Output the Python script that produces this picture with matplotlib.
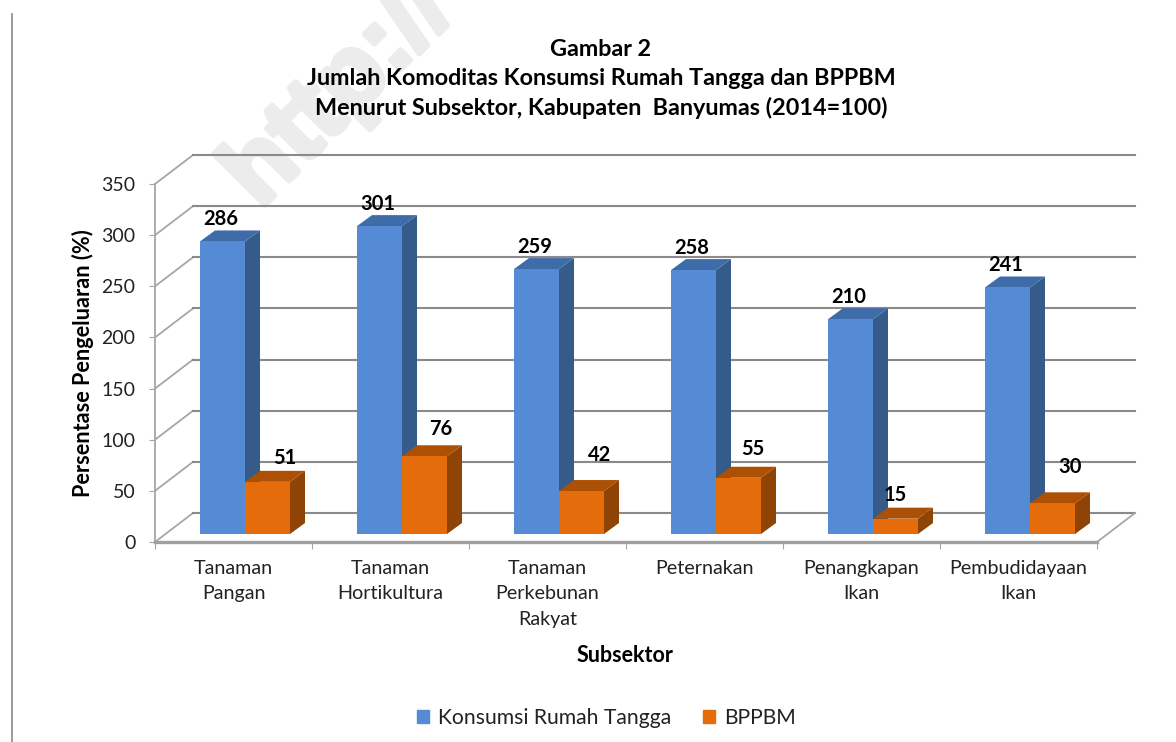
import matplotlib
matplotlib.use("Agg")
import matplotlib.pyplot as plt
import matplotlib.patheffects as pe
from matplotlib.patches import Polygon, Patch

plt.rcParams['font.family'] = ['Lato', 'DejaVu Sans']

categories = ["Tanaman\nPangan", "Tanaman\nHortikultura", "Tanaman\nPerkebunan\nRakyat",
              "Peternakan", "Penangkapan\nIkan", "Pembudidayaan\nIkan"]
konsumsi = [286, 301, 259, 258, 210, 241]
bppbm = [51, 76, 42, 55, 15, 30]
y_ticks = [0, 50, 100, 150, 200, 250, 300, 350]
series_names = ["Konsumsi Rumah Tangga", "BPPBM"]
title_lines = "Gambar 2\nJumlah Komoditas Konsumsi Rumah Tangga dan BPPBM\nMenurut Subsektor, Kabupaten  Banyumas (2014=100)"

W, H = 1176, 742
fig = plt.figure(figsize=(W / 100, H / 100), dpi=100, facecolor='white')
L, R, B, T = 155, 1097, 542, 184
ax = fig.add_axes([L / W, 1 - B / H, (R - L) / W, (B - T) / H], zorder=2)
ax.set_xlim(0, 6)
ax.set_ylim(0, 350)
ax.patch.set_visible(False)

px = 6 / (R - L)
py = 350 / (B - T)
GRID = '#8a8a8a'
LIGHT = '#a6a6a6'

wall_dx, wall_dy = 38 * px, 29 * py
for v in y_ticks:
    ax.plot([0, wall_dx], [v, v + wall_dy], color=LIGHT, lw=1.3, clip_on=False, zorder=1)
    ax.plot([wall_dx, 6 + wall_dx], [v + wall_dy, v + wall_dy], color=GRID, lw=1.5, clip_on=False, zorder=1)
ax.plot([6, 6 + wall_dx], [0, wall_dy], color=LIGHT, lw=1.3, clip_on=False, zorder=1)

bar_w = 45 * px
base_dx, base_dy = 11.5 * px, 8 * py
dep_x, dep_y = 15 * px, 11 * py
BLUE = ('#558ad4', '#3d6ca8', '#345b8a')
ORANGE = ('#e46c0a', '#ab5005', '#8f4304')


def bar3d(x0, value, cols):
    y0, y1, x1 = base_dy, base_dy + value, x0 + bar_w
    ax.add_patch(Polygon([(x1, y0), (x1 + dep_x, y0 + dep_y), (x1 + dep_x, y1 + dep_y), (x1, y1)],
                         closed=True, fc=cols[2], ec='none', clip_on=False, zorder=3))
    ax.add_patch(Polygon([(x0, y1), (x0 + dep_x, y1 + dep_y), (x1 + dep_x, y1 + dep_y), (x1, y1)],
                         closed=True, fc=cols[1], ec='none', clip_on=False, zorder=3))
    ax.bar(x0, value, bar_w, bottom=base_dy, align='edge', color=cols[0], clip_on=False, zorder=3)


orange_off = [(17, 24), (16, 27), (18, 36), (14, 29), (0, 24), (18, 36)]
for i, (a, b) in enumerate(zip(konsumsi, bppbm)):
    centre = i + 0.5 + base_dx
    bar3d(centre - bar_w, a, BLUE)
    bar3d(centre, b, ORANGE)
    ax.annotate(str(a), (centre - bar_w / 2, a + base_dy), xytext=(-1, 22 * 0.72), textcoords='offset points',
                ha='center', va='center', fontsize=14.5, fontweight='bold', color='black',
                annotation_clip=False, zorder=6)
    ax.annotate(str(b), (centre + bar_w / 2, b + base_dy),
                xytext=(orange_off[i][0] * 0.72, orange_off[i][1] * 0.72), textcoords='offset points',
                ha='center', va='center', fontsize=14.5, fontweight='bold', color='black',
                annotation_clip=False, zorder=6)

for s in ('top', 'right'):
    ax.spines[s].set_visible(False)
ax.spines['left'].set_color(LIGHT)
ax.spines['left'].set_linewidth(1.3)
ax.spines['bottom'].set_color('#a0a0a0')
ax.spines['bottom'].set_linewidth(2.4)
ax.set_yticks(y_ticks)
ax.tick_params(axis='y', length=4, color=LIGHT, labelsize=14, labelcolor='#222222', pad=10)
ax.set_xticks(range(7))
ax.set_xticklabels([])
ax.tick_params(axis='x', which='major', length=5, color=LIGHT)
ax.set_xticks([i + 0.5 for i in range(6)], minor=True)
ax.set_xticklabels(categories, minor=True, fontsize=14.2, color='#222222', linespacing=1.6)
ax.tick_params(axis='x', which='minor', length=0, pad=13)

fig.text(601 / W, 1 - 79 / H, title_lines, ha='center', va='center', fontsize=16.8, fontweight='bold',
         color='black', linespacing=1.47)
fig.text(83 / W, 1 - 363 / H, "Persentase Pengeluaran (%)", rotation=90, ha='center', va='center',
         fontsize=15.6, fontweight='bold', color='black')
fig.text(625 / W, 1 - 656 / H, "Subsektor", ha='center', va='center', fontsize=15.5, fontweight='bold',
         color='black')

handles = [Patch(color='#558ad4'), Patch(color='#e46c0a')]
fig.legend(handles, series_names, loc='center', bbox_to_anchor=(606.5 / W, 1 - 718 / H), ncol=2, frameon=False,
           fontsize=15.2, handlelength=0.57, handleheight=0.57, handletextpad=0.43, columnspacing=1.5,
           labelcolor='#222222')

fig.text(260 / W, 1 - 210 / H, "http://", rotation=45, ha='left', va='baseline', fontsize=72, fontweight='bold',
         family='Liberation Sans', color='#ececec', zorder=0, rotation_mode='anchor',
         path_effects=[pe.withStroke(linewidth=4, foreground='#ececec')])
fig.add_artist(plt.Line2D([12 / W, 12 / W], [0, 1 - 14 / H], color='#8a8a8a', lw=1.2))

fig.savefig('out.png', dpi=100, facecolor='white')
